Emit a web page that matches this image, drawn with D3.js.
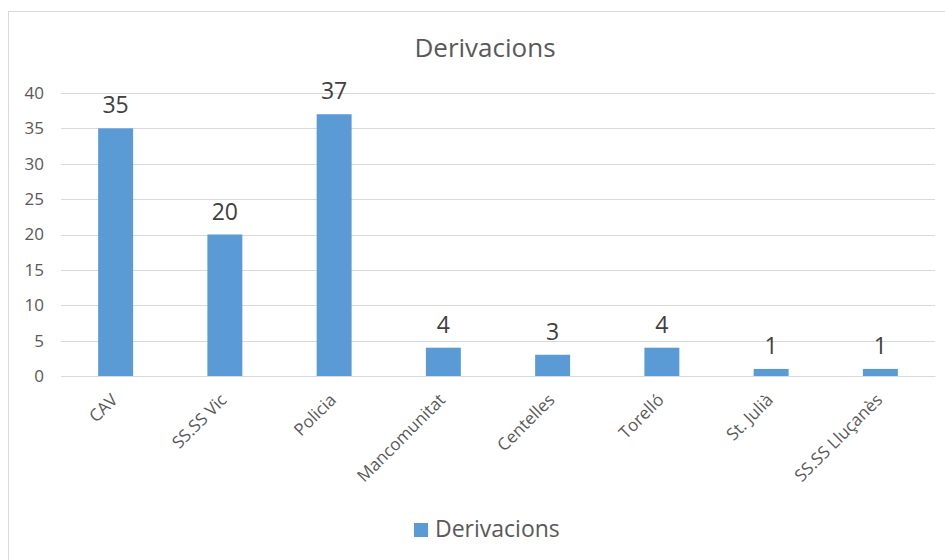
<!DOCTYPE html>
<html>
<head>
<meta charset="utf-8">
<script src="https://cdn.jsdelivr.net/npm/d3@7"></script>
<style>
  html, body { margin: 0; padding: 0; background: #fff; }
  svg { display: block; font-family: "Open Sans", Lato, sans-serif; }
</style>
</head>
<body>
<svg id="chart" width="945" height="560"></svg>
<script>
const categories = ["CAV", "SS.SS Vic", "Policia", "Mancomunitat", "Centelles", "Torelló", "St. Julià", "SS.SS Lluçanès"];
const derivacions = [35, 20, 37, 4, 3, 4, 1, 1];
const yTicks = [0, 5, 10, 15, 20, 25, 30, 35, 40];
const seriesName = "Derivacions";
const chartTitle = "Derivacions";

const FONT = "'Open Sans', Lato, sans-serif";
const svg = d3.select("#chart");
const W = 945, H = 560;

// chart frame
svg.append("rect")
  .attr("x", 8.5).attr("y", 11.5)
  .attr("width", W).attr("height", H)
  .attr("fill", "#fff").attr("stroke", "#d9d9d9").attr("stroke-width", 1);

const x = d3.scaleBand()
  .domain(categories)
  .range([61, 935])
  .paddingInner(0.68).paddingOuter(0.34);

const y = d3.scaleLinear()
  .domain([0, 40])
  .range([376, 93]);

// gridlines
svg.append("g")
  .selectAll("line")
  .data(yTicks)
  .join("line")
  .attr("x1", 61).attr("x2", 935)
  .attr("y1", d => Math.round(y(d)) + 0.5)
  .attr("y2", d => Math.round(y(d)) + 0.5)
  .attr("stroke", "#d9d9d9").attr("stroke-width", 1);

// y axis labels
const yAxis = d3.axisLeft(y).tickValues(yTicks).tickSize(0).tickPadding(17);
const gy = svg.append("g").attr("transform", "translate(61,0)").call(yAxis);
gy.select(".domain").remove();
gy.selectAll("text")
  .attr("fill", "#595959")
  .style("font-size", "17px")
  .style("font-family", FONT);

// bars
svg.append("g")
  .selectAll("rect")
  .data(derivacions)
  .join("rect")
  .attr("x", (d, i) => x(categories[i]))
  .attr("y", d => y(d))
  .attr("width", x.bandwidth())
  .attr("height", d => y(0) - y(d))
  .attr("fill", "#5b9bd5");

// value labels
svg.append("g")
  .selectAll("text")
  .data(derivacions)
  .join("text")
  .attr("x", (d, i) => x(categories[i]) + x.bandwidth() / 2)
  .attr("y", d => y(d) - 15)
  .attr("text-anchor", "middle")
  .attr("fill", "#404040")
  .style("font-size", "23px")
  .text(d => d);

// x axis
const xAxis = d3.axisBottom(x).tickSize(0).tickPadding(0);
const gx = svg.append("g").attr("transform", "translate(0,376)").call(xAxis);
gx.select(".domain").attr("stroke", "#d9d9d9");
gx.selectAll("text")
  .attr("fill", "#595959")
  .style("font-size", "17px")
  .style("font-family", FONT)
  .attr("text-anchor", "end")
  .attr("y", 0)
  .attr("dy", "0")
  .attr("transform", "translate(3,25) rotate(-45)");

// title
svg.append("text")
  .attr("x", 485).attr("y", 57)
  .attr("text-anchor", "middle")
  .attr("fill", "#595959")
  .style("font-size", "26px")
  .text(chartTitle);

// legend
const lg = svg.append("g");
lg.append("rect")
  .attr("x", 414).attr("y", 523)
  .attr("width", 14).attr("height", 14)
  .attr("fill", "#5b9bd5");
lg.append("text")
  .attr("x", 435).attr("y", 537)
  .attr("fill", "#595959")
  .style("font-size", "23px")
  .text(seriesName);
</script>
</body>
</html>
